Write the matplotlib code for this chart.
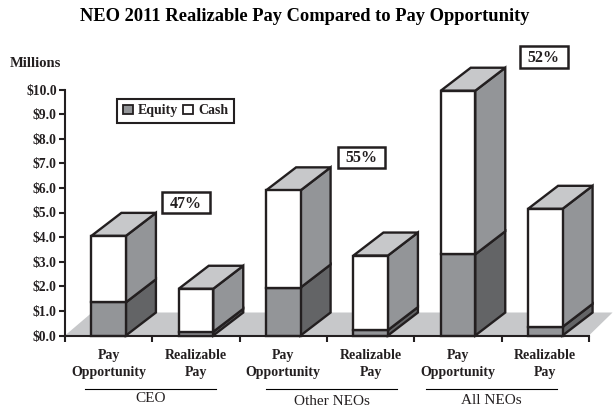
import matplotlib
matplotlib.use('Agg')
import matplotlib.pyplot as plt
from matplotlib.patches import Polygon, Patch, Rectangle

plt.rcParams['font.family'] = ['Liberation Serif', 'DejaVu Serif']

W, H = 613, 408

bar_labels = ['Pay\nOpportunity', 'Realizable\nPay'] * 3
equity = [1.35, 0.15, 1.95, 0.22, 3.3, 0.35]
total = [4.05, 1.9, 5.9, 3.25, 9.95, 5.15]
cash = [t - e for t, e in zip(total, equity)]
groups = ['CEO', 'Other NEOs', 'All NEOs']
y_ticks = list(range(0, 11))
percents = ['47%', '55%', '52%']

FRONT_EQ = '#939598'
SIDE_EQ = '#636466'
SIDE_CASH = '#939598'
TOP = '#c7c8ca'
LINE = '#231f20'
LW = 1.7


def px_x(x):
    return x / W


def px_y(y):
    return 1 - y / H


fig = plt.figure(figsize=(W / 100, H / 100), dpi=100)
ax = fig.add_axes([px_x(65), px_y(335.5), (589 - 65) / W, 246 / H])
ax.set_xlim(0, 6)
ax.set_ylim(0, 10)
ax.patch.set_alpha(0)

# depth of the fake 3d boxes, in data units
dx = 30 / (524 / 6)
dy = 23 / 24.6
bar_w = 34.5 / (524 / 6)

# floor
ax.add_patch(Polygon([(0, 0), (dx * 0.9, dy), (6.27, dy), (6, 0)], closed=True,
                     facecolor=TOP, edgecolor='none', clip_on=False, zorder=1))


def side(x, y0, y1, color, z):
    ax.add_patch(Polygon([(x, y0), (x + dx, y0 + dy), (x + dx, y1 + dy), (x, y1)], closed=True,
                         facecolor=color, edgecolor=LINE, lw=LW, joinstyle='miter', zorder=z, clip_on=False))


xs = [i + 0.5 for i in range(len(total))]
for i, x in enumerate(xs):
    z = 3 + i
    left = x - bar_w / 2
    right = x + bar_w / 2
    side(right, 0, equity[i], SIDE_EQ, z)
    side(right, equity[i], total[i], SIDE_CASH, z)
    ax.add_patch(Polygon([(left, total[i]), (left + dx, total[i] + dy), (right + dx, total[i] + dy), (right, total[i])],
                         closed=True, facecolor=TOP, edgecolor=LINE, lw=LW, joinstyle='miter', zorder=z, clip_on=False))
    ax.bar(x, equity[i], bar_w, color=FRONT_EQ, edgecolor=LINE, lw=LW, zorder=z, clip_on=False)
    ax.bar(x, cash[i], bar_w, bottom=equity[i], color='white', edgecolor=LINE, lw=LW, zorder=z, clip_on=False)

for s in ['top', 'right']:
    ax.spines[s].set_visible(False)
for s in ['left', 'bottom']:
    ax.spines[s].set_linewidth(1.5)
    ax.spines[s].set_color(LINE)
    ax.spines[s].set_zorder(20)

ax.set_yticks(y_ticks)
ax.set_yticklabels(['$%.1f' % v for v in y_ticks], fontsize=9.8, fontweight='bold', color=LINE)
ax.set_xticks(range(7))
ax.set_xticklabels([])
ax.tick_params(axis='both', direction='out', length=4, width=1.5, color=LINE, pad=2)

for x, lab in zip(xs, bar_labels):
    ax.annotate(lab, (x, 0), xytext=(0, -10), textcoords='offset points', ha='center', va='top',
                fontsize=10, fontweight='bold', color=LINE, linespacing=1.4, annotation_clip=False)

# group rules and names
for name, x0, x1, ypx in zip(groups, [85, 266, 426], [216, 397, 557], [398.5, 401.5, 400.5]):
    fig.add_artist(plt.Line2D([px_x(x0), px_x(x1)], [px_y(388.5), px_y(388.5)], color='black', lw=0.8))
    fig.text(px_x((x0 + x1) / 2), px_y(ypx), name, ha='center', va='center', fontsize=11, color=LINE)

fig.text(px_x(304.5), px_y(16.5), 'NEO 2011 Realizable Pay Compared to Pay Opportunity', ha='center', va='center',
         fontsize=13.3, fontweight='bold', color='black')
fig.text(px_x(10), px_y(63.5), 'Millions', ha='left', va='center', fontsize=10.5, fontweight='bold', color=LINE)

# percentage callouts
for txt, cx, cy in zip(percents, [186, 361.5, 543.5], [202.5, 157, 57]):
    fig.add_artist(Rectangle((px_x(cx - 24), px_y(cy + 10.5)), 48 / W, 21 / H, transform=fig.transFigure,
                             facecolor='white', edgecolor=LINE, lw=1.8, zorder=30))
    fig.text(px_x(cx), px_y(cy + 1), txt, ha='center', va='center', fontsize=11.5, fontweight='bold', color=LINE, zorder=31)

handles = [Patch(facecolor=FRONT_EQ, edgecolor=LINE, lw=1.3, label='Equity'),
           Patch(facecolor='white', edgecolor=LINE, lw=1.3, label='Cash')]
leg = fig.legend(handles=handles, ncol=2, loc='center', bbox_to_anchor=(px_x(175.5), px_y(111)),
                 prop={'weight': 'bold', 'size': 10}, fancybox=False, framealpha=1,
                 edgecolor=LINE, handlelength=0.7, handleheight=0.7, handletextpad=0.35,
                 columnspacing=0.4, borderpad=0.4, borderaxespad=0, labelcolor=LINE)
leg.get_frame().set_linewidth(1.5)

fig.savefig('out.png', dpi=100)
plt.close(fig)
